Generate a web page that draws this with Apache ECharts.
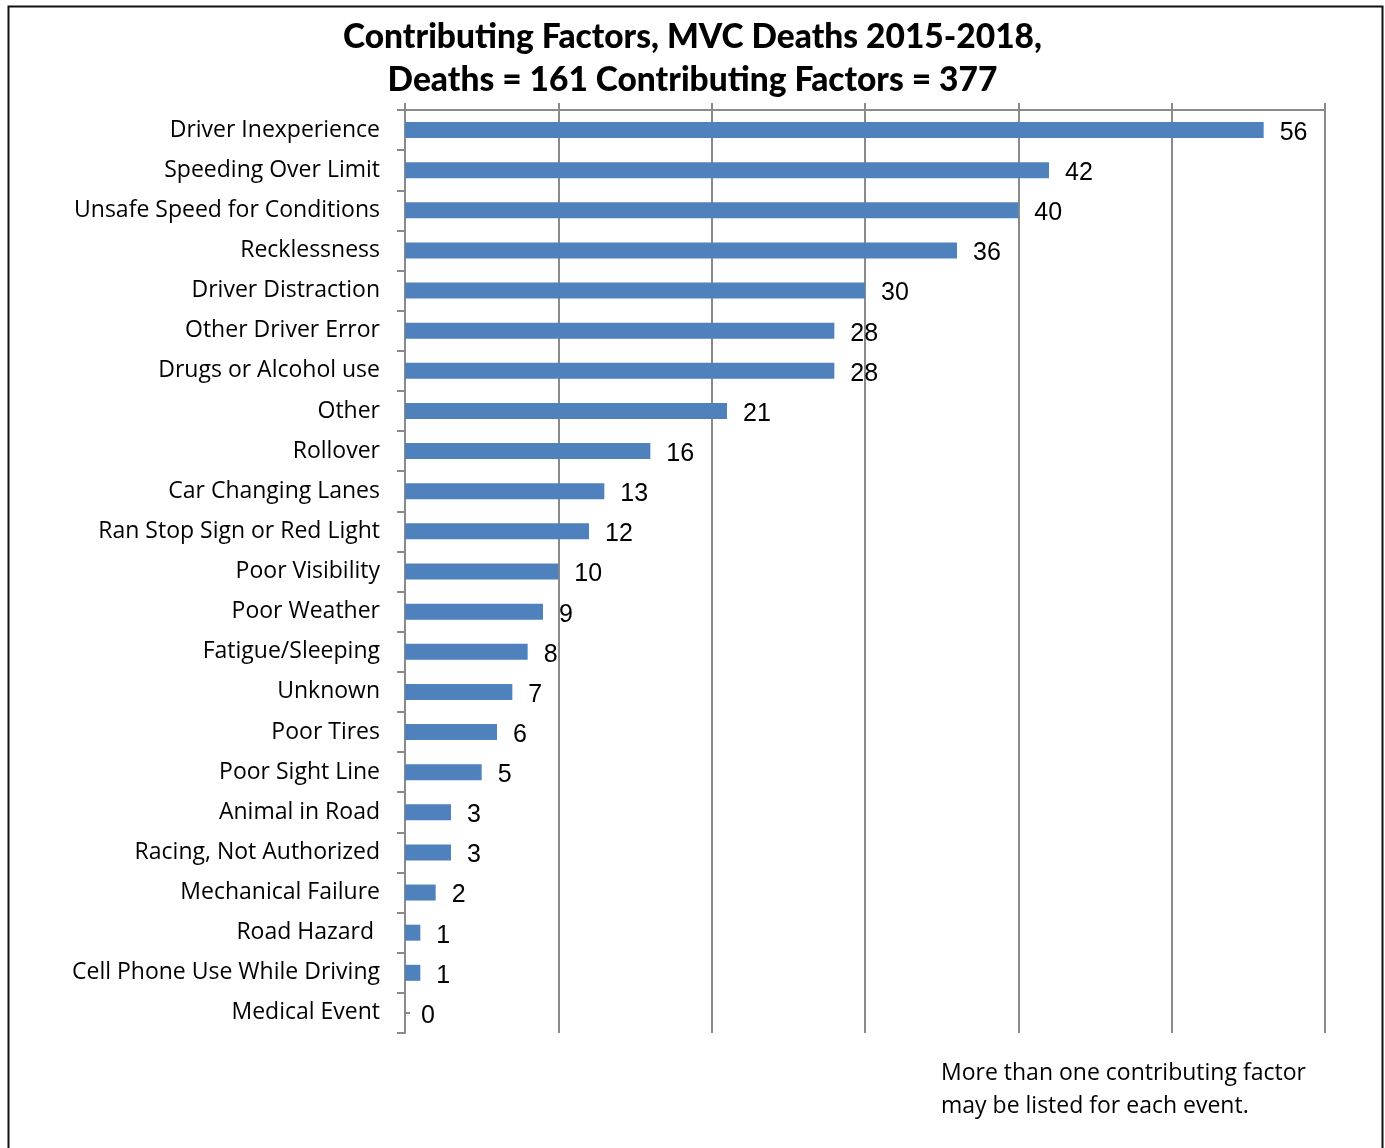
<!DOCTYPE html>
<html>
<head>
<meta charset="utf-8">
<style>
  html, body { margin: 0; padding: 0; background: #fff; }
  #chart { width: 1385px; height: 1148px; }
</style>
<script src="https://cdn.jsdelivr.net/npm/echarts@6/dist/echarts.min.js"></script>
</head>
<body>
<div id="chart"></div>
<script>
// Contributing factors, listed top to bottom
const factors = [
  'Driver Inexperience', 'Speeding Over Limit', 'Unsafe Speed for Conditions',
  'Recklessness', 'Driver Distraction', 'Other Driver Error', 'Drugs or Alcohol use',
  'Other', 'Rollover', 'Car Changing Lanes', 'Ran Stop Sign or Red Light',
  'Poor Visibility', 'Poor Weather', 'Fatigue/Sleeping', 'Unknown', 'Poor Tires',
  'Poor Sight Line', 'Animal in Road', 'Racing, Not Authorized', 'Mechanical Failure',
  'Road Hazard ', 'Cell Phone Use While Driving', 'Medical Event'
];
// Number of times each factor was cited
const counts = [56, 42, 40, 36, 30, 28, 28, 21, 16, 13, 12, 10, 9, 8, 7, 6, 5, 3, 3, 2, 1, 1, 0];

const titleLines = ['Contributing Factors, MVC Deaths 2015-2018,', 'Deaths = 161 Contributing Factors = 377'];
const footnoteLines = ['More than one contributing factor', 'may be listed for each event.'];

const axisGray = '#8a8a8a';
const chart = echarts.init(document.getElementById('chart'));

chart.setOption({
  animation: false,
  backgroundColor: '#fff',
  title: {
    text: titleLines.join('\n'),
    left: 'center',
    top: 11,
    textStyle: {
      fontFamily: 'Lato', fontWeight: 900, fontSize: 33.5,
      lineHeight: 43, color: '#000'
    }
  },
  graphic: [
    {
      type: 'rect', left: 6, top: 4,
      shape: { width: 1374, height: 1170 },
      style: { fill: 'none', stroke: '#111', lineWidth: 2 }
    },
    {
      type: 'text', left: 941, top: 1057,
      style: {
        text: footnoteLines.join('\n'),
        font: '23px "Open Sans"', fill: '#000', lineHeight: 33
      }
    }
  ],
  grid: { left: 405, right: 60, top: 110, bottom: 115 },
  xAxis: {
    type: 'value', position: 'top', min: 0, max: 60, interval: 10,
    axisLine: { show: true, lineStyle: { color: axisGray, width: 2 } },
    axisTick: { show: true, inside: false, length: 7, lineStyle: { color: axisGray, width: 2 } },
    axisLabel: { show: false },
    splitLine: { show: true, lineStyle: { color: axisGray, width: 2 } }
  },
  yAxis: [
    {
      type: 'category', inverse: true, data: factors,
      axisLine: { show: true, lineStyle: { color: axisGray, width: 2 } },
      axisTick: { show: true, length: 8, lineStyle: { color: axisGray, width: 2 } },
      axisLabel: {
        margin: 25, fontFamily: 'Open Sans', fontSize: 23, color: '#000', interval: 0
      }
    },
    {
      type: 'category', inverse: true, data: factors, position: 'left',
      axisLine: { show: false },
      axisTick: { show: true, inside: true, alignWithLabel: true, length: 5,
        lineStyle: { color: axisGray, width: 2 } },
      axisLabel: { show: false }
    }
  ],
  series: [{
    type: 'bar', data: counts, yAxisIndex: 0, barWidth: 16,
    itemStyle: { color: '#4f81bd' },
    label: {
      show: true, position: 'right', distance: 16, offset: [0, 3],
      fontFamily: 'Liberation Sans', fontSize: 25, color: '#000'
    }
  }]
});
</script>
</body>
</html>
